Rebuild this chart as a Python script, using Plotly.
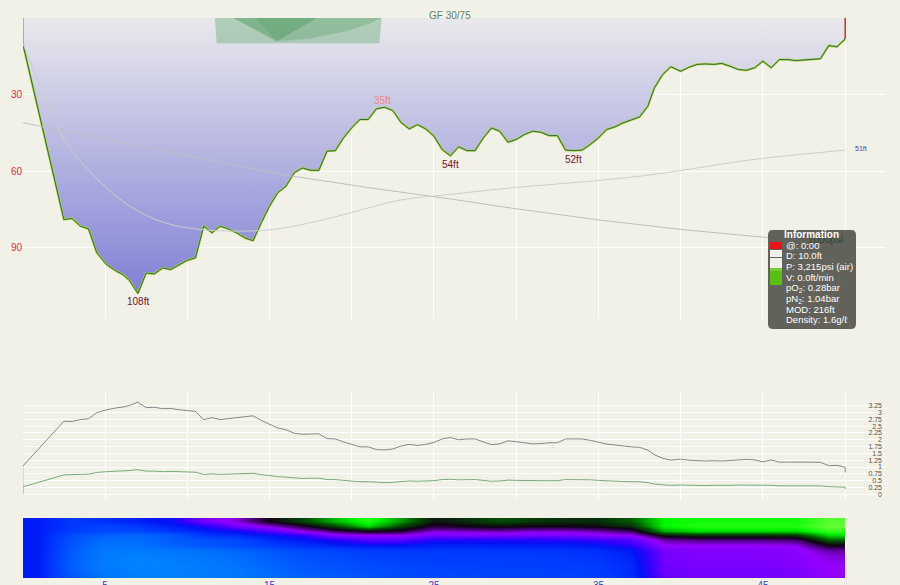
import plotly.graph_objects as go

# ---------------- data ----------------
profile_time = [0, 2.5, 3, 3.5, 4, 4.5, 5.1, 5.7, 6.1, 6.5, 7, 7.5, 8, 8.5, 9, 9.5, 10, 10.5, 11, 11.5,
                12, 12.5, 13, 13.5, 14, 14.5, 15, 15.5, 16, 16.5, 17, 17.5, 18, 18.5, 19, 19.5, 20, 20.5,
                21, 21.5, 22, 22.5, 23, 23.5, 24, 24.5, 25, 25.5, 26, 26.5, 27, 27.5, 28, 28.5, 29, 29.5,
                30, 30.5, 31, 31.5, 32, 32.5, 33, 33.5, 34, 34.5, 35, 35.5, 36, 36.5, 37, 37.5, 38, 38.4,
                38.9, 39.4, 40, 40.5, 41, 41.5, 42, 42.5, 43, 43.5, 44, 44.5, 45, 45.5, 46, 46.5, 47, 47.5,
                48, 48.5, 49, 49.5, 50]
profile_depth = [10, 79, 78.6, 81.6, 82.7, 92, 96.7, 99.3, 100.6, 103, 108, 100, 100.3, 98, 98.6, 96.7, 95, 94,
                 81.6, 84.2, 81.6, 82.7, 84.2, 86.2, 87.3, 80.3, 73.8, 68.5, 66, 60.7, 58.8, 59.7, 59.7, 52.2,
                 52, 47, 43, 39.8, 39.8, 35.6, 35, 36.3, 41, 43.5, 41.8, 43.5, 46.3, 51.6, 54, 50.5, 52, 52,
                 47, 43.1, 44.4, 48.7, 47.6, 45.7, 44.4, 44.8, 46.1, 46.1, 51.8, 52, 51.8, 49.6, 47, 43.7,
                 42.7, 41.1, 39.8, 38.8, 34.6, 27.4, 22.2, 19.1, 20.9, 19.3, 18.2, 18, 18.2, 17.8, 18.9, 20.2,
                 20.5, 19.5, 16.9, 19.5, 16.3, 16.3, 16.7, 16.4, 16.3, 16, 10.8, 11.3, 8.2]

# partial pressures (bar)
pn2_bar = [1.03, 2.68, 2.67, 2.74, 2.77, 2.99, 3.10, 3.17, 3.20, 3.26, 3.38, 3.18, 3.19, 3.14, 3.15, 3.10, 3.06,
           3.04, 2.74, 2.81, 2.74, 2.77, 2.81, 2.85, 2.88, 2.71, 2.56, 2.43, 2.37, 2.24, 2.20, 2.22, 2.22, 2.04,
           2.03, 1.92, 1.82, 1.74, 1.74, 1.64, 1.63, 1.66, 1.77, 1.83, 1.79, 1.83, 1.90, 2.03, 2.08, 2.00, 2.03,
           2.03, 1.92, 1.82, 1.85, 1.96, 1.93, 1.88, 1.85, 1.86, 1.89, 1.89, 2.03, 2.03, 2.03, 1.98, 1.92, 1.84,
           1.81, 1.77, 1.74, 1.72, 1.62, 1.45, 1.32, 1.25, 1.29, 1.25, 1.23, 1.22, 1.23, 1.22, 1.24, 1.27, 1.28,
           1.26, 1.19, 1.26, 1.18, 1.18, 1.19, 1.18, 1.18, 1.17, 1.05, 1.06, 0.99]
po2_bar = [0.27, 0.71, 0.71, 0.73, 0.74, 0.80, 0.83, 0.84, 0.85, 0.87, 0.90, 0.85, 0.85, 0.83, 0.84, 0.83, 0.81,
           0.81, 0.73, 0.75, 0.73, 0.74, 0.75, 0.76, 0.77, 0.72, 0.68, 0.65, 0.63, 0.60, 0.58, 0.59, 0.59, 0.54,
           0.54, 0.51, 0.48, 0.46, 0.46, 0.44, 0.43, 0.44, 0.47, 0.49, 0.48, 0.49, 0.50, 0.54, 0.55, 0.53, 0.54,
           0.54, 0.51, 0.48, 0.49, 0.52, 0.51, 0.50, 0.49, 0.50, 0.50, 0.50, 0.54, 0.54, 0.54, 0.53, 0.51, 0.49,
           0.48, 0.47, 0.46, 0.46, 0.43, 0.38, 0.35, 0.33, 0.34, 0.33, 0.33, 0.32, 0.33, 0.32, 0.33, 0.34, 0.34,
           0.33, 0.32, 0.33, 0.31, 0.31, 0.32, 0.31, 0.31, 0.31, 0.28, 0.28, 0.26]
pp_start = 0.0
pn2_end = 0.80
po2_end = 0.20

pressure_time = [0, 5, 10, 16, 21, 26, 30, 35, 40, 45, 50]
pressure_psi = [3215, 2900, 2590, 2225, 1990, 1775, 1590, 1380, 1200, 1055, 990]

temp_time = [0, 0.85, 1.66, 2.67, 4.7, 6.72, 8.75, 10.78, 12.8, 14.83, 16.85, 18.88, 20.91, 22.93, 25.97,
             30.03, 34.08, 38.13, 40.15, 44.2, 50]
temp_f = [56.27, 54.62, 52.98, 51.33, 49.43, 48.12, 47.38, 47.08, 47.0, 47.05, 47.30, 47.68, 48.12, 48.53,
          48.81, 49.16, 49.43, 49.77, 50.01, 50.51, 51.0]

# tissue heat map: rows = compartments (fast at top), columns = 2-minute steps
heat_time = [1, 3, 5, 7, 9, 11, 13, 15, 17, 19, 21, 23, 25, 27, 29, 31, 33, 35, 37, 39, 41, 43, 45, 47, 49]
heat_rows = list(range(12))
heat_z = [
    [0.36, 0.30, 0.32, 0.35, 0.40, 0.55, 0.62, 0.72, 0.78, 0.86, 0.92, 0.84, 0.74, 0.76, 0.79, 0.77, 0.76, 0.76, 0.80, 0.90, 0.91, 0.91, 0.91, 0.91, 0.95],
    [0.36, 0.30, 0.26, 0.30, 0.35, 0.42, 0.55, 0.62, 0.70, 0.78, 0.88, 0.78, 0.70, 0.72, 0.73, 0.72, 0.72, 0.73, 0.76, 0.90, 0.92, 0.92, 0.92, 0.92, 0.96],
    [0.36, 0.28, 0.25, 0.25, 0.30, 0.35, 0.40, 0.50, 0.60, 0.68, 0.72, 0.70, 0.62, 0.63, 0.64, 0.62, 0.62, 0.64, 0.68, 0.85, 0.88, 0.88, 0.88, 0.88, 0.93],
    [0.36, 0.24, 0.18, 0.17, 0.20, 0.30, 0.33, 0.38, 0.45, 0.58, 0.60, 0.60, 0.55, 0.56, 0.56, 0.55, 0.56, 0.58, 0.60, 0.74, 0.76, 0.76, 0.76, 0.77, 0.88],
    [0.36, 0.22, 0.15, 0.15, 0.20, 0.22, 0.25, 0.32, 0.36, 0.42, 0.50, 0.50, 0.42, 0.42, 0.42, 0.42, 0.43, 0.45, 0.50, 0.64, 0.66, 0.66, 0.66, 0.67, 0.80],
    [0.36, 0.22, 0.13, 0.13, 0.18, 0.22, 0.25, 0.28, 0.32, 0.35, 0.38, 0.38, 0.35, 0.35, 0.36, 0.36, 0.36, 0.38, 0.45, 0.60, 0.60, 0.60, 0.60, 0.61, 0.72],
    [0.36, 0.20, 0.11, 0.10, 0.12, 0.14, 0.17, 0.21, 0.25, 0.27, 0.29, 0.30, 0.30, 0.30, 0.30, 0.30, 0.31, 0.32, 0.37, 0.56, 0.57, 0.57, 0.57, 0.58, 0.65],
    [0.36, 0.20, 0.10, 0.08, 0.10, 0.12, 0.15, 0.19, 0.23, 0.25, 0.27, 0.28, 0.28, 0.29, 0.29, 0.29, 0.30, 0.31, 0.35, 0.55, 0.57, 0.57, 0.57, 0.58, 0.62],
    [0.36, 0.19, 0.10, 0.07, 0.09, 0.11, 0.14, 0.18, 0.22, 0.24, 0.26, 0.27, 0.28, 0.28, 0.28, 0.28, 0.29, 0.30, 0.34, 0.55, 0.56, 0.56, 0.56, 0.57, 0.61],
    [0.36, 0.19, 0.10, 0.07, 0.08, 0.10, 0.13, 0.17, 0.21, 0.23, 0.25, 0.26, 0.27, 0.27, 0.28, 0.28, 0.28, 0.29, 0.33, 0.54, 0.56, 0.56, 0.56, 0.57, 0.60],
    [0.36, 0.20, 0.11, 0.08, 0.08, 0.10, 0.12, 0.16, 0.20, 0.22, 0.24, 0.25, 0.26, 0.27, 0.27, 0.27, 0.28, 0.29, 0.33, 0.54, 0.55, 0.55, 0.55, 0.56, 0.60],
    [0.36, 0.21, 0.12, 0.09, 0.09, 0.10, 0.12, 0.15, 0.19, 0.21, 0.23, 0.25, 0.26, 0.26, 0.27, 0.27, 0.27, 0.28, 0.32, 0.53, 0.55, 0.55, 0.55, 0.56, 0.59],
]

# ceiling / gradient-factor shading at the top
ceil_outer_t = [11.68, 21.82, 21.68, 11.79]
ceil_outer_d = [0, 0, 9.9, 9.9]
ceil_v_t = [12.8, 15.44, 17.87]
ceil_v_d = [0, 9.1, 0]
ceil_curve_t = [14.12, 15.44, 17.46, 19.59, 21.1, 21.78]
ceil_curve_d = [0, 9.1, 8.0, 5.3, 2.2, 0]

depth_ticks = [30, 60, 90]
time_ticks = [5, 15, 25, 35, 45]
time_grid = [0, 10, 20, 30, 40, 50]
tissue_ticks = [0, 0.25, 0.5, 0.75, 1, 1.25, 1.5, 1.75, 2, 2.25, 2.5, 2.75, 3, 3.25]

info_lines = ["@: 0:00", "D: 10.0ft", "P: 3,215psi (air)", "V: 0.0ft/min",
              "pO<sub>2</sub>: 0.28bar", "pN<sub>2</sub>: 1.04bar", "MOD: 216ft", "Density: 1.6g/ℓ"]

# ---------------- layout helpers ----------------
W, H = 900, 585
ML, MR, MT, MB = 23, 15, 18, 7
PW = W - ML - MR
PH = H - MT - MB


def px(x):
    return (x - ML) / PW


def py(y):
    return (H - MB - y) / PH


BG = "rgb(242,241,231)"
FONT = "Liberation Sans, Arial, sans-serif"

fig = go.Figure()

# profile fill with vertical gradient
fig.add_trace(go.Scatter(
    x=[profile_time[0]] + profile_time + [profile_time[-1]],
    y=[0] + profile_depth + [0],
    mode="lines", line=dict(width=0), fill="toself",
    fillgradient=dict(type="vertical", start=0, stop=max(profile_depth),
                      colorscale=[[0, "rgb(233,233,236)"], [1, "rgb(128,128,214)"]]),
    hoverinfo="skip", showlegend=False, xaxis="x", yaxis="y"))

# ceiling shading
fig.add_trace(go.Scatter(x=ceil_outer_t, y=ceil_outer_d, fill="toself", mode="lines", line=dict(width=0),
                         fillcolor="rgba(100,170,115,0.42)", hoverinfo="skip", showlegend=False))
fig.add_trace(go.Scatter(x=ceil_v_t, y=ceil_v_d, fill="toself", mode="lines", line=dict(width=0),
                         fillcolor="rgba(70,150,90,0.45)", hoverinfo="skip", showlegend=False))
fig.add_trace(go.Scatter(x=ceil_curve_t, y=ceil_curve_d, fill="toself", mode="lines", line=dict(width=0),
                         fillcolor="rgba(90,160,105,0.35)", hoverinfo="skip", showlegend=False))

# pressure and temperature lines
fig.add_trace(go.Scatter(x=pressure_time, y=pressure_psi, mode="lines", yaxis="y2",
                         line=dict(color="rgb(190,190,195)", width=1), hoverinfo="skip", showlegend=False))
fig.add_trace(go.Scatter(x=temp_time, y=temp_f, mode="lines", yaxis="y3", line_shape="spline",
                         line=dict(color="rgb(205,205,205)", width=1), hoverinfo="skip", showlegend=False))

# profile line
fig.add_trace(go.Scatter(x=profile_time, y=profile_depth, mode="lines",
                         line=dict(color="rgb(170,210,70)", width=2.2), hoverinfo="skip", showlegend=False))
fig.add_trace(go.Scatter(x=profile_time, y=profile_depth, mode="lines",
                         line=dict(color="rgb(50,105,60)", width=1.0), hoverinfo="skip", showlegend=False))
fig.add_trace(go.Scatter(x=[profile_time[0], profile_time[0]], y=[0, profile_depth[0]], mode="lines",
                         line=dict(color="rgb(70,150,70)", width=1.5), hoverinfo="skip", showlegend=False))
fig.add_trace(go.Scatter(x=[profile_time[-1], profile_time[-1]], y=[profile_depth[-1], 0], mode="lines",
                         line=dict(color="rgb(220,40,40)", width=1.5), hoverinfo="skip", showlegend=False))

# partial pressure lines
fig.add_trace(go.Scatter(x=[0] + profile_time + [profile_time[-1]], y=[pp_start] + pn2_bar + [pn2_end],
                         mode="lines", yaxis="y4", line=dict(color="rgb(135,135,135)", width=1),
                         hoverinfo="skip", showlegend=False))
fig.add_trace(go.Scatter(x=[0] + profile_time + [profile_time[-1]], y=[pp_start] + po2_bar + [po2_end],
                         mode="lines", yaxis="y4", line=dict(color="rgb(120,170,120)", width=1),
                         hoverinfo="skip", showlegend=False))

# tissue heat map
fig.add_trace(go.Heatmap(
    z=heat_z, x=heat_time, y=heat_rows, xaxis="x", yaxis="y5", zmin=0, zmax=1, zsmooth="best",
    showscale=False, hoverinfo="skip",
    colorscale=[[0.0, "rgb(0,150,255)"], [0.15, "rgb(0,110,255)"], [0.3, "rgb(0,55,255)"],
                [0.38, "rgb(0,20,245)"], [0.45, "rgb(50,0,255)"], [0.6, "rgb(150,0,255)"],
                [0.72, "rgb(15,0,20)"], [0.8, "rgb(0,90,0)"], [0.9, "rgb(0,250,0)"],
                [1.0, "rgb(170,255,90)"]]))

# ---------------- annotations ----------------
ann = []
label_red = "rgb(115,20,40)"
ann.append(dict(x=7, y=108, xref="x", yref="y", text="108ft", showarrow=False, yanchor="top", yshift=-1,
                font=dict(size=10, color=label_red)))
ann.append(dict(x=26, y=54, xref="x", yref="y", text="54ft", showarrow=False, yanchor="top", yshift=-1,
                font=dict(size=10, color=label_red)))
ann.append(dict(x=33.5, y=52, xref="x", yref="y", text="52ft", showarrow=False, yanchor="top", yshift=-1,
                font=dict(size=10, color=label_red)))
ann.append(dict(x=21.9, y=35, xref="x", yref="y", text="35ft", showarrow=False, yanchor="bottom", yshift=-1,
                font=dict(size=10, color="rgb(240,135,135)")))
ann.append(dict(x=50.5, y=51.1, xref="x", yref="y3", text="51ft", showarrow=False, xanchor="left",
                font=dict(size=7, color="rgb(70,70,170)")))
ann.append(dict(x=0, y=3215, xref="x", yref="y2", text="3215psi", showarrow=False, xanchor="left",
                yanchor="bottom", yshift=-1, font=dict(size=10, color="rgb(85,115,95)")))
ann.append(dict(x=0, y=3215, xref="x", yref="y2", text="AIR", showarrow=False, xanchor="left",
                yanchor="top", yshift=-1, font=dict(size=10, color="rgb(85,115,95)")))
ann.append(dict(x=50, y=1010, xref="x", yref="y2", text="1000psi", showarrow=False, xanchor="right",
                font=dict(size=10, color="rgb(45,70,50)")))
ann.append(dict(x=px(450), y=py(8), xref="paper", yref="paper", text="GF 30/75", showarrow=False,
                xanchor="center", font=dict(size=10, color="rgb(95,125,105)")))

# info box
ann.append(dict(x=px(811), y=py(235), xref="paper", yref="paper", text="<b>Information</b>", showarrow=False,
                xanchor="center", font=dict(size=10, color="white")))
for i, line in enumerate(info_lines):
    ann.append(dict(x=px(784), y=py(245 + i * 10.7), xref="paper", yref="paper", text=line, showarrow=False,
                    xanchor="left", font=dict(size=9.5, color="white")))


def rrect(x0, y0, x1, y1, r):
    pts = [
        ("M", x0 + r, y0), ("L", x1 - r, y0), ("Q", x1, y0, x1, y0 + r), ("L", x1, y1 - r),
        ("Q", x1, y1, x1 - r, y1), ("L", x0 + r, y1), ("Q", x0, y1, x0, y1 - r), ("L", x0, y0 + r),
        ("Q", x0, y0, x0 + r, y0)]
    s = ""
    for p in pts:
        coords = p[1:]
        parts = []
        for k in range(0, len(coords), 2):
            parts.append(f"{px(coords[k]):.5f},{py(coords[k + 1]):.5f}")
        s += p[0] + " " + " ".join(parts) + " "
    return s + "Z"


shapes = [
    dict(type="path", xref="paper", yref="paper", path=rrect(768, 230, 856, 329, 5),
         fillcolor="rgba(88,88,82,0.94)", line=dict(width=0), layer="above"),
]
squares = [(242, 249, "rgb(235,20,20)"), (250, 257, "rgb(240,240,232)"), (258, 268, "rgb(240,240,232)"),
           (268, 271, "rgb(120,200,60)"), (271, 285, "rgb(90,190,20)")]
for y0, y1, c in squares:
    shapes.append(dict(type="rect", xref="paper", yref="paper", x0=px(770), x1=px(782), y0=py(y1), y1=py(y0),
                       fillcolor=c, line=dict(width=0), layer="above"))

fig.update_layout(
    width=W, height=H, margin=dict(l=ML, r=MR, t=MT, b=MB),
    paper_bgcolor=BG, plot_bgcolor=BG, font=dict(family=FONT),
    showlegend=False, annotations=ann, shapes=shapes,
    xaxis=dict(domain=[0, 1], range=[0.015, 52.42], anchor="y5", tickvals=time_ticks,
               showgrid=True, gridcolor="white", gridwidth=1, zeroline=False, showline=False, ticks="",
               minor=dict(tickvals=time_grid, showgrid=True, gridcolor="white", gridwidth=1, ticks=""),
               tickfont=dict(size=10, color="rgb(60,60,200)"), automargin=False),
    yaxis=dict(domain=[0.4625, 1], range=[118, 0], tickvals=depth_ticks, showgrid=True, gridcolor="white",
               zeroline=False, ticks="", tickfont=dict(size=10, color="rgb(215,50,70)"), automargin=False,
               anchor="x"),
    yaxis2=dict(overlaying="y", range=[-491, 5192], visible=False, anchor="x"),
    yaxis3=dict(overlaying="y", range=[42.66, 57.52], visible=False, anchor="x"),
    yaxis4=dict(domain=[0.1393, 0.3345], range=[-0.209, 3.80], side="right", anchor="x", tickvals=tissue_ticks,
                ticklabelposition="inside", showgrid=True, gridcolor="white", zeroline=False, ticks="",
                tickfont=dict(size=7, color="rgb(80,80,80)"), automargin=False),
    yaxis5=dict(domain=[0, 0.1071], range=[11.5, -0.5], visible=False, anchor="x"),
)

fig.write_html("out.html", config={"displayModeBar": False},
               post_script="document.body.style.margin='0';document.body.style.overflow='hidden';"
                           "window.dispatchEvent(new Event('resize'));")
